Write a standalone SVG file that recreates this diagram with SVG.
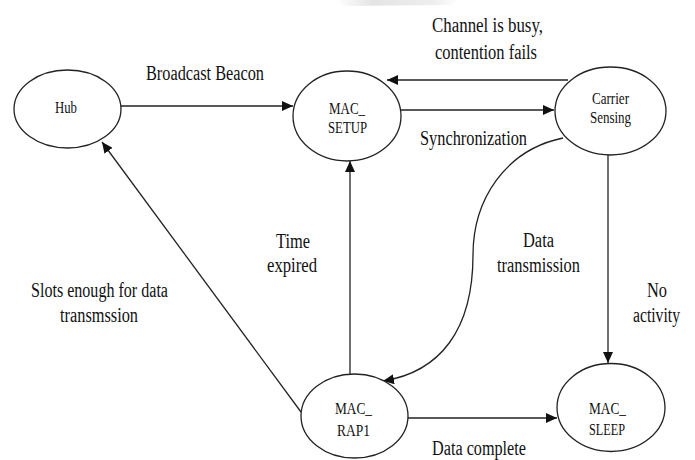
<svg xmlns="http://www.w3.org/2000/svg" width="695" height="460" viewBox="0 0 695 460">
<defs>
<marker id="arr" markerUnits="userSpaceOnUse" markerWidth="12" markerHeight="10" refX="11" refY="5" orient="auto">
<path d="M0,0 L11,5 L0,10 Z" fill="#111"/>
</marker>
<linearGradient id="wm" x1="0" y1="0" x2="1" y2="0">
<stop offset="0" stop-color="#e6e6e6" stop-opacity="0"/>
<stop offset="0.3" stop-color="#e4e4e4"/>
<stop offset="0.8" stop-color="#eeeeee"/>
<stop offset="1" stop-color="#f2f2f2" stop-opacity="0"/>
</linearGradient>
</defs>
<style>
.node ellipse{fill:#fff;stroke:#222;stroke-width:1.3}
.nl{font-family:"Liberation Serif","Times New Roman",serif;font-size:16px;fill:#111}
.el{font-family:"Liberation Serif","Times New Roman",serif;font-size:20px;fill:#111}
.edge{fill:none;stroke:#222;stroke-width:1.3}
</style>
<rect width="695" height="460" fill="#fff"/>
<path d="M335,0 L460,0 L450,5 L345,6 Z" fill="url(#wm)"/>

<g id="connectors">
<line class="edge" x1="121" y1="106" x2="293" y2="106" marker-end="url(#arr)"/>
<line class="edge" x1="568" y1="80" x2="387" y2="80" marker-end="url(#arr)"/>
<line class="edge" x1="401" y1="110" x2="554" y2="110" marker-end="url(#arr)"/>
<path class="edge" d="M563,138 C505,150 473,200 473,255 C473,330 440,372 383,381" marker-end="url(#arr)"/>
<line class="edge" x1="350" y1="374" x2="350" y2="161" marker-end="url(#arr)"/>
<line class="edge" x1="301" y1="412" x2="102" y2="142" marker-end="url(#arr)"/>
<line class="edge" x1="608" y1="155" x2="608" y2="363" marker-end="url(#arr)"/>
<line class="edge" x1="408" y1="418" x2="557" y2="418" marker-end="url(#arr)"/>
</g>

<g id="edge-labels">
<text class="el" x="146" y="80" textLength="118" lengthAdjust="spacingAndGlyphs">Broadcast Beacon</text>
<text class="el" x="432" y="32" textLength="111" lengthAdjust="spacingAndGlyphs">Channel is busy,</text>
<text class="el" x="435" y="59" textLength="102" lengthAdjust="spacingAndGlyphs">contention fails</text>
<text class="el" x="420" y="145" textLength="107" lengthAdjust="spacingAndGlyphs">Synchronization</text>
<text class="el" x="276" y="248" textLength="34" lengthAdjust="spacingAndGlyphs">Time</text>
<text class="el" x="267" y="272" textLength="50" lengthAdjust="spacingAndGlyphs">expired</text>
<text class="el" x="523" y="247" textLength="31" lengthAdjust="spacingAndGlyphs">Data</text>
<text class="el" x="497" y="272" textLength="83" lengthAdjust="spacingAndGlyphs">transmission</text>
<text class="el" x="647" y="297" textLength="20" lengthAdjust="spacingAndGlyphs">No</text>
<text class="el" x="633" y="322" textLength="47" lengthAdjust="spacingAndGlyphs">activity</text>
<text class="el" x="432" y="455" textLength="94" lengthAdjust="spacingAndGlyphs">Data complete</text>
<text class="el" x="31" y="297" textLength="137" lengthAdjust="spacingAndGlyphs">Slots enough for data</text>
<text class="el" x="60" y="322" textLength="78" lengthAdjust="spacingAndGlyphs">transmssion</text>
</g>

<g id="hub" class="node">
<ellipse cx="67.5" cy="109" rx="53.5" ry="39"/>
<text class="nl" x="55" y="113" textLength="22" lengthAdjust="spacingAndGlyphs">Hub</text>
</g>
<g id="mac-setup" class="node">
<ellipse cx="347" cy="116" rx="54" ry="45"/>
<text class="nl" x="329" y="114" textLength="36" lengthAdjust="spacingAndGlyphs">MAC_</text>
<text class="nl" x="328" y="133" textLength="39" lengthAdjust="spacingAndGlyphs">SETUP</text>
</g>
<g id="carrier-sensing" class="node">
<ellipse cx="610.5" cy="111" rx="55.5" ry="44"/>
<text class="nl" x="592" y="104" textLength="37" lengthAdjust="spacingAndGlyphs">Carrier</text>
<text class="nl" x="590" y="123" textLength="41" lengthAdjust="spacingAndGlyphs">Sensing</text>
</g>
<g id="mac-rap1" class="node">
<ellipse cx="354.5" cy="416" rx="53.5" ry="42"/>
<text class="nl" x="335" y="414" textLength="37" lengthAdjust="spacingAndGlyphs">MAC_</text>
<text class="nl" x="337" y="436" textLength="33" lengthAdjust="spacingAndGlyphs">RAP1</text>
</g>
<g id="mac-sleep" class="node">
<ellipse cx="611" cy="407.5" rx="54" ry="44"/>
<text class="nl" x="589" y="414" textLength="37" lengthAdjust="spacingAndGlyphs">MAC_</text>
<text class="nl" x="589" y="435" textLength="36" lengthAdjust="spacingAndGlyphs">SLEEP</text>
</g>
</svg>
